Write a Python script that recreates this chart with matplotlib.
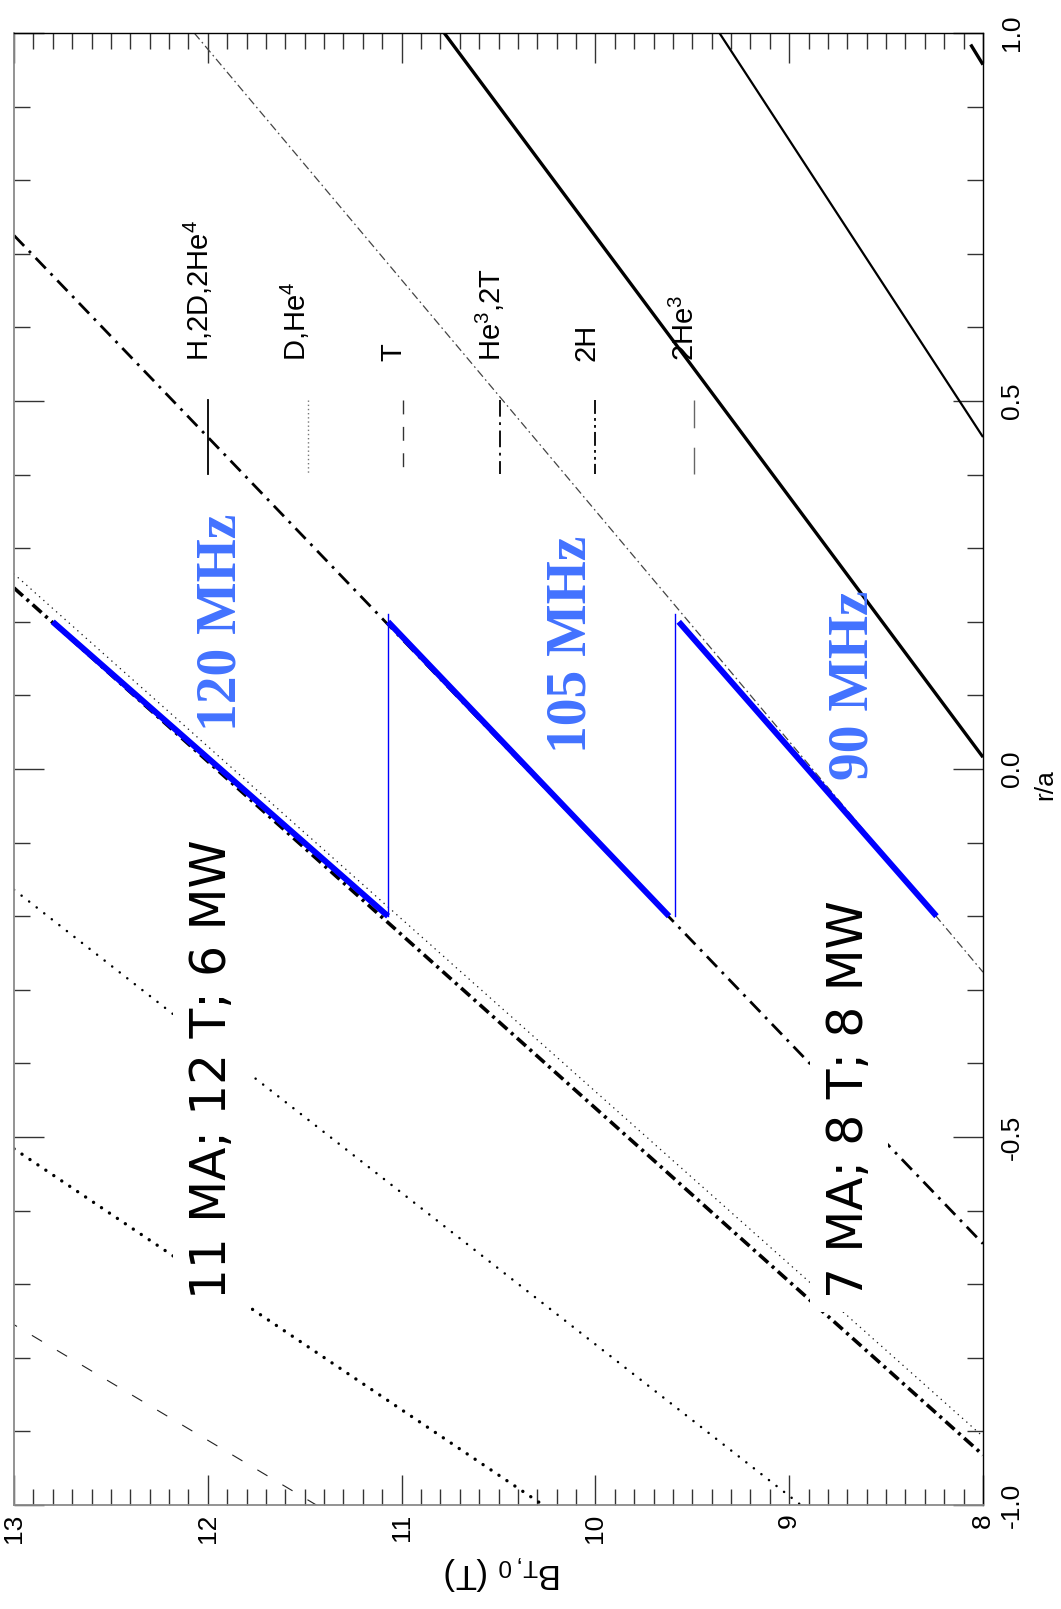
import matplotlib
matplotlib.use("Agg")
import matplotlib.pyplot as plt
from matplotlib.ticker import MultipleLocator
from matplotlib.lines import Line2D

W, H = 1061, 1609

plt.rcParams['font.family'] = ['Liberation Sans', 'DejaVu Sans']
plt.rcParams['mathtext.fontset'] = 'custom'
plt.rcParams['mathtext.rm'] = 'Liberation Sans'
plt.rcParams['mathtext.it'] = 'Liberation Sans:italic'
plt.rcParams['mathtext.default'] = 'regular'
plt.rcParams['lines.scale_dashes'] = False

# ---- cyclotron resonance lines: B_T,0 (T) and r/a at both ends of each line ----
res_species = ["H,2D,2He4", "H,2D,2He4", "2He3", "D,He4", "D,He4", "D,He4",
               "T", "He3,2T", "He3,2T", "He3,2T"]
res_freq_mhz = [120, 105, 120, 120, 105, 90, 90, 120, 105, 90]
res_b = [[8.00, 10.78], [8.00, 9.36], [8.00, 8.10], [13.00, 10.27],
         [13.00, 8.94], [13.00, 8.00], [13.00, 11.44], [13.00, 8.00],
         [13.00, 8.00], [12.07, 8.00]]
res_r = [[0.016, 1.00], [0.451, 1.00], [0.957, 1.00], [-0.516, -1.00],
         [-0.164, -1.00], [0.265, -0.907], [-0.755, -1.00], [0.246, -0.932],
         [0.725, -0.645], [1.00, -0.276]]

# ---- He3 minority heating windows (|r/a| <= 0.2) for each frequency ----
band_labels = ["120 MHz", "105 MHz", "90 MHz"]
band_b = [[11.07, 12.80], [9.62, 11.07], [8.24, 9.57]]
band_r = [[-0.20, 0.20], [-0.20, 0.20], [-0.20, 0.20]]
link_b = [11.07, 9.59]
link_r = [-0.20, 0.21]

# ---- scenario captions ----
scenario_labels = ["11 MA; 12 T; 6 MW", "7 MA; 8 T; 8 MW"]

# ---- legend entries ----
legend_labels = ["H,2D,2He$^{4}$", "D,He$^{4}$", "T", "He$^{3}$,2T", "2H", "2He$^{3}$"]

# axis ticks
b_ticks = [13, 12, 11, 10, 9, 8]
r_ticks = [-1.0, -0.5, 0.0, 0.5, 1.0]

# line appearance for each resonance line (same order as res_b)
res_fmt = [
    dict(ls='-', lw=2.4, color='black'),
    dict(ls='-', lw=1.6, color='black'),
    dict(ls=(0, (17, 10)), lw=2.4, color='black'),
    dict(ls=(0, (0.1, 6.8)), lw=2.4, color='black', dash_capstyle='round'),
    dict(ls=(0, (0.1, 6.8)), lw=1.8, color='black', dash_capstyle='round'),
    dict(ls=(0, (0.1, 4.0)), lw=1.1, color='#222222', dash_capstyle='round'),
    dict(ls=(6, (8.5, 12.5)), lw=0.8, color='#222222'),
    dict(ls=(0, (8.6, 3.6, 2.2, 3.6)), lw=2.6, color='black'),
    dict(ls=(0, (10.5, 5, 2, 5)), lw=2.0, color='black'),
    dict(ls=(0, (6, 2.5, 1.2, 2.5)), lw=0.9, color='#444444'),
]

legend_fmt = [
    dict(ls='-', lw=1.3, color='black'),
    dict(ls=(0, (1, 2)), lw=1.0, color='#777777'),
    dict(ls=(0, (10, 9)), lw=1.0, color='#333333'),
    dict(ls=(0, (12, 4, 2, 4)), lw=1.3, color='black'),
    dict(ls=(0, (10, 3, 2, 3, 2, 3)), lw=1.3, color='black'),
    dict(ls=(0, (20, 14)), lw=1.0, color='#666666'),
]


def fig_xy(px, py):
    return px / W, 1 - py / H


fig = plt.figure(figsize=(W / 100, H / 100), dpi=100)
left, right, top, bottom = 14, 983, 33, 1505
ax = fig.add_axes([left / W, 1 - bottom / H, (right - left) / W, (bottom - top) / H])
ax.set_xlim(13, 8)
ax.set_ylim(-1, 1)

for bb, rr, fmt in zip(res_b, res_r, res_fmt):
    ax.plot(bb, rr, solid_capstyle='butt', **fmt)

for bb, rr in zip(band_b, band_r):
    ax.plot(bb, rr, color='#0000ff', lw=4.3, solid_capstyle='butt', zorder=4)
for b in link_b:
    ax.plot([b, b], link_r, color='#0000ff', lw=1.0, zorder=4)

# ticks
ax.xaxis.set_major_locator(MultipleLocator(1))
ax.xaxis.set_minor_locator(MultipleLocator(0.1))
ax.yaxis.set_major_locator(MultipleLocator(0.5))
ax.yaxis.set_minor_locator(MultipleLocator(0.1))
ax.set_xticks(b_ticks)
ax.set_xticklabels([str(t) for t in b_ticks])
ax.set_yticks(r_ticks)
ax.set_yticklabels([f"{t:.1f}" for t in r_ticks])
ax.tick_params(which='both', direction='in', top=True, right=True,
               labelleft=False, labelright=True, labelbottom=True, labeltop=False,
               color='#333333', width=1.0)
ax.tick_params(which='major', length=21.5)
ax.tick_params(which='minor', length=11.5)
ax.tick_params(axis='x', labelrotation=90, labelsize=19, pad=6)
ax.tick_params(axis='y', labelrotation=90, labelsize=19, pad=12)
for lab in ax.get_yticklabels():
    lab.set_verticalalignment('center')

for side in ('left', 'bottom'):
    ax.spines[side].set_color('#8a8a8a')
    ax.spines[side].set_linewidth(1.3)
for side in ('top', 'right'):
    ax.spines[side].set_color('black')
    ax.spines[side].set_linewidth(1.0)

# axis titles
fig.text(*fig_xy(1045, 785), 'r/a', rotation=90, fontsize=19, ha='center', va='center')
fig.text(*fig_xy(503, 1572), r'B$_{T,0}$ (T)', rotation=180, fontsize=25,
         ha='center', va='center')

# rotated legend
legend_text_x = [198, 295.5, 393, 490.5, 587, 685.5]
legend_line_x = [208, 308, 403, 500, 595, 694]
for lab, tx, lx, fmt in zip(legend_labels, legend_text_x, legend_line_x, legend_fmt):
    fig.text(*fig_xy(tx, 361), lab, rotation=90, fontsize=21, ha='center', va='bottom')
    x0, y0 = fig_xy(lx, 400)
    x1, y1 = fig_xy(lx, 474)
    fig.add_artist(Line2D([x0, x1], [y0, y1], transform=fig.transFigure, **fmt))

# frequency labels
freq_pos = [(221, 622), (571, 644), (853, 685)]
for lab, (px, py) in zip(band_labels, freq_pos):
    fig.text(*fig_xy(px, py), lab, rotation=90, fontsize=40, fontweight='bold',
             family='Liberation Serif', color='#4272ff', ha='center', va='center',
             zorder=6)

# scenario captions on white boxes
scen_pos = [(212, 1069), (849, 1099)]
for lab, (px, py) in zip(scenario_labels, scen_pos):
    fig.text(*fig_xy(px, py), lab, rotation=90, fontsize=35, family='DejaVu Sans',
             ha='center', va='center', zorder=6,
             bbox=dict(facecolor='white', edgecolor='none', boxstyle='square,pad=0.3'))

fig.savefig('out.png', dpi=100, facecolor='white')
